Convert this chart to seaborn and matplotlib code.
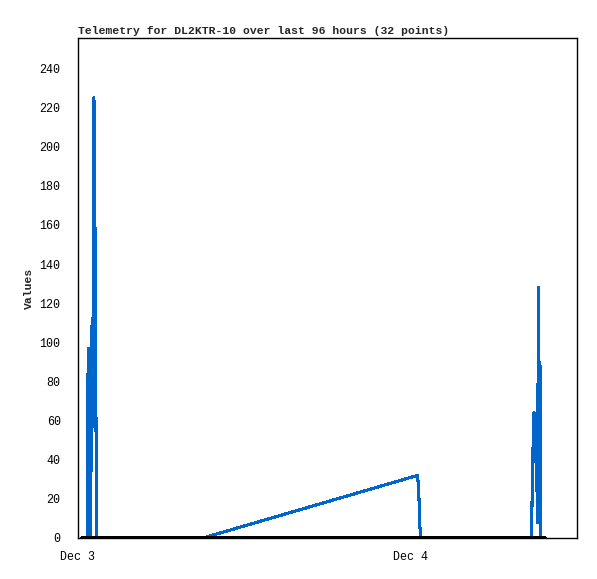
import pandas as pd
import seaborn as sns
import matplotlib.pyplot as plt
import matplotlib.dates as mdates

# telemetry samples
times = [
    "2023-12-03 00:36", "2023-12-03 00:40", "2023-12-03 00:42", "2023-12-03 00:44",
    "2023-12-03 00:48", "2023-12-03 00:50", "2023-12-03 00:54", "2023-12-03 01:01",
    "2023-12-03 01:05", "2023-12-03 01:09", "2023-12-03 01:13", "2023-12-03 01:18",
    "2023-12-03 01:22", "2023-12-03 09:01", "2023-12-04 00:30", "2023-12-04 00:35",
    "2023-12-04 00:39", "2023-12-04 00:43", "2023-12-04 08:44", "2023-12-04 08:45",
    "2023-12-04 08:50", "2023-12-04 08:54", "2023-12-04 08:58", "2023-12-04 09:00",
    "2023-12-04 09:05", "2023-12-04 09:07", "2023-12-04 09:09", "2023-12-04 09:13",
    "2023-12-04 09:18", "2023-12-04 09:20", "2023-12-04 09:22", "2023-12-04 09:24",
]
values = [0, 0, 48, 97, 72, 24, 0, 112,
          57, 225, 168, 56, 0, 0, 32, 24,
          8, 0, 0, 16, 48, 64, 48, 56,
          24, 40, 8, 128, 48, 88, 0, 0]

zero_times = ["2023-12-03 00:13", "2023-12-04 09:43"]
zero_values = [0, 0]

df = pd.DataFrame({"time": pd.to_datetime(times), "value": values})
zdf = pd.DataFrame({"time": pd.to_datetime(zero_times), "value": zero_values})

sns.set_style("white")
plt.rcParams["font.family"] = ["Liberation Mono", "DejaVu Sans Mono"]

fig = plt.figure(figsize=(5.97, 5.79), dpi=100)
ax = fig.add_axes([78 / 597, 41 / 579, 499 / 597, 500 / 579])

sns.lineplot(data=df, x="time", y="value", ax=ax, color="#0066cc",
             linewidth=1.5, antialiased=False)
sns.lineplot(data=zdf, x="time", y="value", ax=ax, color="black",
             linewidth=2.2, antialiased=False)

ax.set_xlim(pd.Timestamp("2023-12-03 00:00"), pd.Timestamp("2023-12-04 12:00"))
ax.set_ylim(0, 255.5)
ax.set_yticks(range(0, 241, 20))
ax.xaxis.set_major_locator(mdates.DayLocator())
ax.xaxis.set_major_formatter(mdates.DateFormatter("%b %-d"))

ax.set_xlabel("")
ax.set_ylabel("Values", fontsize=8.2, fontweight="bold", labelpad=4)
ax.set_title("Telemetry for DL2KTR-10 over last 96 hours (32 points)",
             loc="left", fontsize=8.2, fontweight="bold", pad=3)

ax.tick_params(axis="y", direction="out", length=6.5, width=1, colors="black",
               labelsize=8.4, pad=6)
ax.tick_params(axis="x", direction="out", length=4, width=1, colors="black",
               labelsize=8.4, pad=5)
for s in ax.spines.values():
    s.set_color("black")
    s.set_linewidth(1)

fig.savefig("out.png", dpi=100)
